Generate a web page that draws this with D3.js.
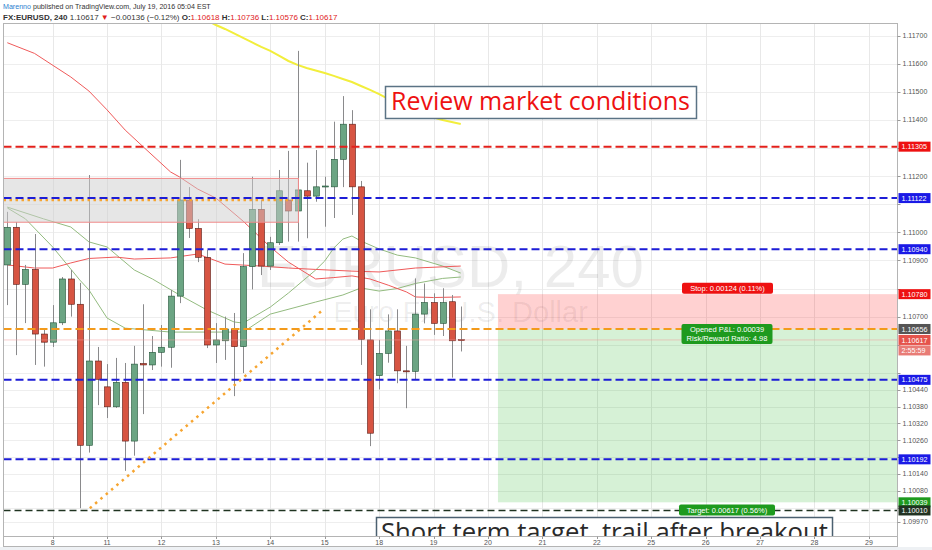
<!DOCTYPE html>
<html><head><meta charset="utf-8">
<script src="https://cdn.jsdelivr.net/npm/d3@7"></script>
<style>body{margin:0;background:#fff;}svg{display:block;}</style>
</head><body>
<svg id="c" width="932" height="550"></svg>
<script>
// ---------- DATA ----------
const dayLabels = ["8","11","12","13","14","15","18","19","20","21","22","25","26","27","28","29"];
const barsPerDay = 6;
const firstDayBar = 5;
const opens  = [1.10884,1.11018,1.10815,1.10868,1.10638,1.10609,1.10678,1.10834,1.10744,1.10242,1.10542,1.10450,1.10379,1.10466,1.10257,1.10533,1.10528,1.10573,1.10591,1.10773,1.11115,1.11014,1.10911,1.10599,1.10614,1.10656,1.10593,1.10878,1.11082,1.10880,1.10963,1.11115,1.11076,1.11148,1.11129,1.11163,1.11162,1.11260,1.11385,1.11162,1.10617,1.10490,1.10569,1.10649,1.10507,1.10505,1.10709,1.10750,1.10676,1.10753,1.10618];
const highs  = [1.11073,1.11037,1.10884,1.10994,1.10659,1.10741,1.10841,1.10866,1.10820,1.11204,1.10592,1.10531,1.10553,1.10535,1.10596,1.10744,1.10631,1.10670,1.10795,1.11258,1.11161,1.11047,1.10937,1.10677,1.10700,1.10713,1.10926,1.11198,1.11115,1.10984,1.11222,1.11290,1.11646,1.11248,1.11293,1.11198,1.11394,1.11485,1.11435,1.11183,1.10726,1.10617,1.10708,1.10726,1.10596,1.10836,1.10818,1.10783,1.10801,1.10777,1.10736];
const lows   = [1.10741,1.10563,1.10677,1.10528,1.10522,1.10592,1.10670,1.10700,1.10018,1.10216,1.10385,1.10339,1.10375,1.10151,1.10205,1.10353,1.10510,1.10522,1.10518,1.10748,1.10980,1.10894,1.10588,1.10535,1.10546,1.10417,1.10499,1.10797,1.10848,1.10866,1.10955,1.10967,1.10967,1.10979,1.11109,1.11020,1.11051,1.11161,1.11062,1.10528,1.10239,1.10441,1.10536,1.10463,1.10374,1.10477,1.10676,1.10635,1.10631,1.10483,1.10576];
const closes = [1.11018,1.10815,1.10868,1.10638,1.10609,1.10678,1.10834,1.10744,1.10242,1.10542,1.10477,1.10379,1.10466,1.10257,1.10531,1.10528,1.10573,1.10591,1.10773,1.11115,1.11014,1.10911,1.10599,1.10617,1.10656,1.10593,1.10878,1.11082,1.10880,1.10963,1.11148,1.11076,1.11151,1.11129,1.11162,1.11165,1.11260,1.11385,1.11162,1.10619,1.10285,1.10569,1.10649,1.10507,1.10505,1.10709,1.10750,1.10676,1.10750,1.10614,1.10617];

const priceTicks = [1.117,1.116,1.115,1.114,1.113,1.112,1.111,1.110,1.109,1.108,1.107,1.106,1.105,1.1044,1.1038,1.1032,1.1026,1.1020,1.1014,1.1008,1.1002,1.0997];

const yellowIdx = [20,21,22,23,24,25,26,27,28,29,30,31,32,33,34,35,36,37,38,39,40,41,42,43,44,45,46,47,48,49,50];
const yellowVal = [1.11790,1.11772,1.11755,1.11738,1.11724,1.11708,1.11692,1.11676,1.11660,1.11646,1.11628,1.11610,1.11596,1.11585,1.11576,1.11567,1.11557,1.11546,1.11535,1.11521,1.11507,1.11492,1.11475,1.11457,1.11443,1.11430,1.11419,1.11409,1.11400,1.11393,1.11386];
const redSlowIdx = [0,3,7,9,11,13,15,18,19,21,23,26,29,31,34,36,38,40,42,44,45,47,50];
const redSlowVal = [1.11675,1.11637,1.11553,1.11503,1.11436,1.11364,1.11304,1.11215,1.11197,1.11154,1.11122,1.11040,1.10948,1.10894,1.10834,1.10839,1.10845,1.10834,1.10812,1.10788,1.10770,1.10768,1.10770];
const redFastIdx = [0,3,5,7,9,12,14,18,21,24,28,31,34,38,41,45,50];
const redFastVal = [1.10884,1.10873,1.10873,1.10891,1.10907,1.10912,1.10905,1.10909,1.10923,1.10887,1.10880,1.10873,1.10868,1.10862,1.10859,1.10873,1.10880];
const greenAIdx = [0,4,7,9,11,14,16,19,22,25,26,29,31,34,35,36,37,38,39,41,43,45,48,50];
const greenAVal = [1.11090,1.11048,1.11019,1.10966,1.10948,1.10866,1.10834,1.10777,1.10724,1.10681,1.10677,1.10734,1.10784,1.10866,1.10898,1.10944,1.10976,1.10987,1.10969,1.10941,1.10919,1.10909,1.10880,1.10855];
const greenBIdx = [0,2,5,8,9,11,13,18,22,26,29,34,37,39,41,43,45,48,50];
const greenBVal = [1.11087,1.11048,1.10948,1.10830,1.10795,1.10695,1.10659,1.10645,1.10645,1.10645,1.10709,1.10752,1.10777,1.10802,1.10791,1.10800,1.10818,1.10836,1.10841];

const resistanceLevels = [1.11305];
const supportLevels = [1.11122,1.10940,1.10475,1.10192];
const targetLevel = 1.10010;
const zoneTop = 1.11192, zoneBottom = 1.11036, zoneEndIdx = 32.1;
const dottedLevel = 1.11115, dottedEndIdx = 31.5;
const trendIdx = [9.1, 34.8];
const trendVal = [1.10018, 1.10724];
const entryPrice = 1.10656, stopPrice = 1.10780, targetPrice = 1.10039, positionStartIdx = 54.1;
const lastPrice = 1.10617, countdown = "2:55:59";
const stopText = "Stop: 0.00124 (0.11%)";
const pnlText = ["Opened P&L: 0.00039", "Risk/Reward Ratio: 4.98"];
const targetText = "Target: 0.00617 (0.56%)";
const note1 = "Review market conditions";
const note2 = "Short term target, trail after breakout";

// ---------- LAYOUT ----------
const svg = d3.select("#c");
const L = 3.5, R = 897.5, T = 23.5, B = 536.5;
const x = d3.scaleLinear().domain([0, 98.1]).range([7.3, 897]);
const y = d3.scaleLinear().domain([1.0997, 1.117]).range([521.7, 35.7]);
const fmt = d3.format(".5f");
const FONT = "'Liberation Sans', Arial, sans-serif";

svg.append("rect").attr("width",932).attr("height",550).attr("fill","#fff");

svg.append("defs").append("clipPath").attr("id","plot")
  .append("rect").attr("x",L).attr("y",T).attr("width",R-L).attr("height",B-T);
const g = svg.append("g").attr("clip-path","url(#plot)");

// grid
const dayIdx = dayLabels.map((d,i)=>firstDayBar + i*barsPerDay);
g.selectAll(".hg").data(priceTicks).join("line")
  .attr("x1",L).attr("x2",R).attr("y1",d=>Math.round(y(d))+0.5).attr("y2",d=>Math.round(y(d))+0.5)
  .attr("stroke","#eeeeee");
g.selectAll(".vg").data(dayIdx).join("line")
  .attr("x1",d=>Math.round(x(d))+0.5).attr("x2",d=>Math.round(x(d))+0.5).attr("y1",T).attr("y2",B)
  .attr("stroke","#e8e8e8");

// watermark
const cx = (L+R)/2;
g.append("text").attr("x",cx).attr("y",287).attr("text-anchor","middle")
  .attr("font-family",FONT).attr("font-size",60).attr("fill","#000").attr("fill-opacity",0.075)
  .text("EURUSD, 240");
g.append("text").attr("x",cx+10).attr("y",322).attr("text-anchor","middle")
  .attr("font-family",FONT).attr("font-size",29).attr("fill","#000").attr("fill-opacity",0.075)
  .text("Euro FX/U.S. Dollar");

// position tool zones
const px0 = x(positionStartIdx);
g.append("rect").attr("x",px0).attr("y",y(stopPrice)).attr("width",R-px0).attr("height",y(entryPrice)-y(stopPrice))
  .attr("fill","rgb(255,0,0)").attr("fill-opacity",0.18);
g.append("rect").attr("x",px0).attr("y",y(entryPrice)).attr("width",R-px0).attr("height",y(targetPrice)-y(entryPrice))
  .attr("fill","rgb(0,170,0)").attr("fill-opacity",0.16);

// moving averages
const mkLine = (idx, val) => d3.line().x((d,i)=>x(idx[i])).y(d=>y(d))(val);
const maDefs = [
  [greenBIdx, greenBVal, "#93bb7f", 1],
  [greenAIdx, greenAVal, "#93bb7f", 1],
  [redFastIdx, redFastVal, "#ef5a5a", 1],
  [redSlowIdx, redSlowVal, "#ef5a5a", 1],
  [yellowIdx, yellowVal, "#f2ee3c", 2]
];
maDefs.forEach(([ix,v,c,w])=>{
  g.append("path").attr("d",mkLine(ix,v)).attr("fill","none").attr("stroke",c).attr("stroke-width",w);
});

// candles
const bars = opens.map((o,i)=>({i,o,h:highs[i],l:lows[i],c:closes[i]}));
const cg = g.append("g");
cg.selectAll(".wick").data(bars).join("line")
  .attr("x1",d=>Math.round(x(d.i))+0.5).attr("x2",d=>Math.round(x(d.i))+0.5)
  .attr("y1",d=>y(d.h)).attr("y2",d=>y(d.l)).attr("stroke","#8a8a8c").attr("stroke-width",1);
cg.selectAll(".body").data(bars).join("rect")
  .attr("x",d=>Math.round(x(d.i))-2.5).attr("width",6)
  .attr("y",d=>y(Math.max(d.o,d.c)))
  .attr("height",d=>Math.max(1,Math.abs(y(d.o)-y(d.c))))
  .attr("fill",d=>d.c>=d.o?"#6ba583":"#d75442")
  .attr("stroke",d=>d.c>=d.o?"#225437":"#5b1a13").attr("stroke-width",0.6);

// grey zone
g.append("rect").attr("x",L-2).attr("y",y(zoneTop)).attr("width",x(zoneEndIdx)-L+2).attr("height",y(zoneBottom)-y(zoneTop))
  .attr("fill","rgb(205,205,205)").attr("fill-opacity",0.5).attr("stroke","#f08a8a").attr("stroke-width",1);

// dotted orange level in zone
g.append("line").attr("x1",L).attr("x2",x(dottedEndIdx)).attr("y1",y(dottedLevel)).attr("y2",y(dottedLevel))
  .attr("stroke","#f6a531").attr("stroke-width",2.5).attr("stroke-dasharray","2.5,3.5");

// horizontal levels
const hl = (p,c,w,dash)=>g.append("line").attr("x1",L).attr("x2",R).attr("y1",y(p)).attr("y2",y(p))
  .attr("stroke",c).attr("stroke-width",w).attr("stroke-dasharray",dash);
resistanceLevels.forEach(p=>hl(p,"#e3201b",2,"8,4"));
supportLevels.forEach(p=>hl(p,"#1d1dd6",2,"8,4"));
hl(targetLevel,"#1f3320",1.5,"7,4");
hl(lastPrice,"#f09a9a",1,"1,1");
hl(entryPrice,"#f39a1b",2,"8,4");

// trend line
g.append("line").attr("x1",x(trendIdx[0])).attr("y1",y(trendVal[0])).attr("x2",x(trendIdx[1])).attr("y2",y(trendVal[1]))
  .attr("stroke","#f6a531").attr("stroke-width",2.5).attr("stroke-dasharray","2.5,4.5");

// position labels
function boxLabel(lines, cxp, cyp, w, fill){
  const h = lines.length*9+2;
  g.append("rect").attr("x",cxp-w/2).attr("y",cyp-h/2).attr("width",w).attr("height",h).attr("rx",2).attr("fill",fill);
  lines.forEach((t,k)=>g.append("text").attr("x",cxp).attr("y",cyp-h/2+8.5+k*9).attr("text-anchor","middle")
    .attr("font-family",FONT).attr("font-size",7.5).attr("fill","#fff").text(t));
}
boxLabel([stopText], 727.5, y(stopPrice)-6, 91, "#ee1111");
boxLabel(pnlText, 727, y(entryPrice)+5, 91, "#1e9a1e");
boxLabel([targetText], 727, 510, 96, "#1e9a1e");

// note boxes
function noteBox(text, bx, by, bw, bh, tx, ty, targetW, fs, color, stroke){
  g.append("rect").attr("x",bx).attr("y",by).attr("width",bw).attr("height",bh)
    .attr("fill","#fff").attr("stroke",stroke).attr("stroke-width",1.5);
  const t = g.append("text").attr("x",tx).attr("y",ty).attr("font-family","'Open Sans', 'DejaVu Sans', sans-serif")
    .attr("font-size",fs).attr("fill",color).text(text);
  const w = t.node().getComputedTextLength();
  t.attr("font-size", fs*targetW/w);
}
noteBox(note1, 385.5, 86.5, 311, 32, 391, 109.5, 299, 22, "#ee1111", "#5b7385");
noteBox(note2, 376.5, 517.5, 456, 40, 381, 541, 447, 26, "#2a2a2a", "#4b6070");

// frame
svg.append("rect").attr("x",L).attr("y",T).attr("width",R-L).attr("height",B-T).attr("fill","none").attr("stroke","#b4b4b4");

// time axis
svg.append("line").attr("x1",L).attr("x2",R).attr("y1",546.5).attr("y2",546.5).attr("stroke","#b4b4b4");
svg.append("line").attr("x1",L).attr("x2",L).attr("y1",B).attr("y2",547).attr("stroke","#b4b4b4");
svg.append("rect").attr("x",0).attr("y",547).attr("width",932).attr("height",3).attr("fill","#eef1f4");
const tx = svg.append("g");
tx.selectAll("line").data(dayIdx).join("line")
  .attr("x1",d=>Math.round(x(d))+0.5).attr("x2",d=>Math.round(x(d))+0.5).attr("y1",B).attr("y2",B+2.5).attr("stroke","#999");
tx.selectAll("text").data(dayLabels).join("text")
  .attr("x",(d,i)=>x(dayIdx[i])).attr("y",544.5).attr("text-anchor","middle")
  .attr("font-family",FONT).attr("font-size",7).attr("fill","#555").text(d=>d);

// price axis
const boxPrices = [...resistanceLevels, ...supportLevels, stopPrice, entryPrice, lastPrice, targetPrice, targetLevel];
const boxYs = boxPrices.map(p=>y(p)).concat([y(lastPrice)+10.5]);
const visibleTicks = priceTicks.filter(p=>boxYs.every(by=>Math.abs(y(p)-by)>8));
svg.append("line").attr("x1",R).attr("x2",R).attr("y1",T).attr("y2",547).attr("stroke","#b4b4b4");
const ya = svg.append("g");
ya.selectAll("line").data(priceTicks).join("line")
  .attr("x1",R).attr("x2",R+3).attr("y1",d=>Math.round(y(d))+0.5).attr("y2",d=>Math.round(y(d))+0.5).attr("stroke","#999");
ya.selectAll("text").data(visibleTicks).join("text")
  .attr("x",R+5).attr("y",d=>y(d)+2.5).attr("font-family",FONT).attr("font-size",7).attr("fill","#555")
  .text(d=>fmt(d));

function axLabel(p, text, fill, yy){
  const cy = yy===undefined ? y(p) : yy;
  ya.append("rect").attr("x",R+1).attr("y",cy-5).attr("width",32).attr("height",10).attr("fill",fill);
  ya.append("text").attr("x",R+4).attr("y",cy+2.6).attr("font-family",FONT).attr("font-size",7.2)
    .attr("fill","#fff").text(text);
}
resistanceLevels.forEach(p=>axLabel(p,fmt(p),"#ee1111"));
supportLevels.forEach(p=>axLabel(p,fmt(p),"#1a1ae6"));
axLabel(stopPrice, fmt(stopPrice), "#ee1111");
axLabel(entryPrice, fmt(entryPrice), "#555555");
axLabel(lastPrice, fmt(lastPrice), "#e5534b");
axLabel(lastPrice, countdown, "#e87c76", y(lastPrice)+10.5);
axLabel(targetPrice, fmt(targetPrice), "#1e9a1e");
axLabel(targetLevel, fmt(targetLevel), "#223322");

// header
const h1 = svg.append("text").attr("x",3).attr("y",9).attr("font-family",FONT).attr("font-size",7.1).attr("fill","#333");
h1.append("tspan").attr("fill","#2b7fd0").text("Marenno");
h1.append("tspan").text(" published on TradingView.com, July 19, 2016 05:04 EST");
const h2 = svg.append("text").attr("x",3).attr("y",19.5).attr("font-family",FONT).attr("font-size",8).attr("fill","#333");
h2.append("tspan").attr("font-weight","bold").text("FX:EURUSD, 240");
h2.append("tspan").text(" " + fmt(lastPrice) + " ");
h2.append("tspan").attr("fill","#e0201b").text("▼");
h2.append("tspan").text(" −0.00136 (−0.12%) ");
[["O:",opens[50]],["H:",highs[50]],["L:",lows[50]],["C:",closes[50]]].forEach(([k,v],i)=>{
  h2.append("tspan").attr("font-weight","bold").text((i?" ":"")+k);
  h2.append("tspan").attr("fill","#e0201b").text(fmt(v));
});
</script>
</body></html>
